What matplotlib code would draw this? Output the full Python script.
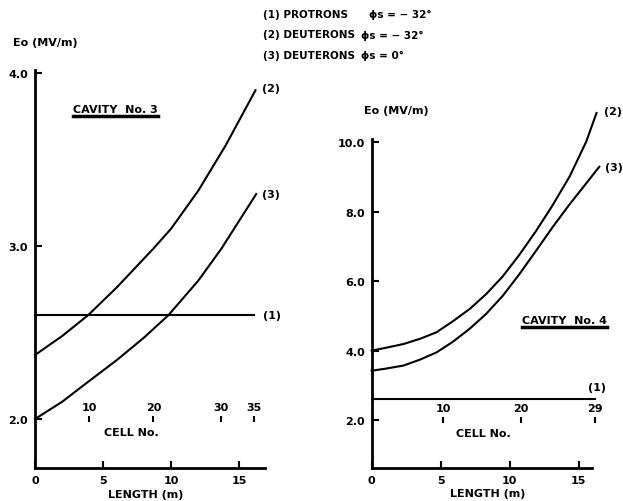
import matplotlib.pyplot as plt
from matplotlib.lines import Line2D

plt.rcParams['font.family'] = ['DejaVu Sans']
plt.rcParams['font.weight'] = 'bold'

# cavity no. 3 : length (m) vs Eo (MV/m)
c3_len_p = [0, 16.1]
c3_ez_p = [2.6, 2.6]
c3_len_d32 = [0, 2, 3.9, 6, 8.7, 10, 12, 14, 16.2]
c3_ez_d32 = [2.37, 2.48, 2.60, 2.76, 2.985, 3.10, 3.32, 3.58, 3.90]
c3_len_d0 = [0, 2, 3.9, 6, 8, 9.8, 12, 13.7, 16.25]
c3_ez_d0 = [2.0, 2.10, 2.215, 2.34, 2.47, 2.60, 2.80, 2.985, 3.30]
c3_cells = ['10', '20', '30', '35']
c3_cell_len = [4.0, 8.7, 13.65, 16.1]

# cavity no. 4
c4_len_p = [0, 16.2]
c4_ez_p = [2.6, 2.6]
c4_len_d32 = [0, 1, 2.3, 3.5, 4.7, 5.9, 7.1, 8.3, 9.5, 10.7, 11.9, 13.1, 14.35, 15.55, 16.3]
c4_ez_d32 = [4.0, 4.08, 4.19, 4.34, 4.53, 4.85, 5.20, 5.63, 6.14, 6.76, 7.44, 8.18, 9.02, 10.02, 10.85]
c4_len_d0 = [0, 1, 2.3, 3.5, 4.7, 5.9, 7.1, 8.3, 9.5, 10.7, 11.9, 13.1, 14.35, 15.55, 16.5]
c4_ez_d0 = [3.42, 3.48, 3.57, 3.74, 3.95, 4.26, 4.63, 5.06, 5.58, 6.20, 6.87, 7.55, 8.22, 8.82, 9.3]
c4_cells = ['10', '20', '29']
c4_cell_len = [5.2, 10.8, 16.2]

legend_names = ['(1) PROTRONS', '(2) DEUTERONS', '(3) DEUTERONS']
legend_phase = ['\u03d5s = \u2212 32\u00b0', '\u03d5s = \u2212 32\u00b0', '\u03d5s = 0\u00b0']

W, H = 623, 502
fig = plt.figure(figsize=(W / 100, H / 100), dpi=100)


def px_axes(x0, x1, y0, y1):
    return fig.add_axes([x0 / W, 1 - y1 / H, (x1 - x0) / W, (y1 - y0) / H])


def style(ax, xlim, ylim, yticks):
    ax.set_xlim(*xlim)
    ax.set_ylim(*ylim)
    for s in ['top', 'right']:
        ax.spines[s].set_visible(False)
    for s in ['left', 'bottom']:
        ax.spines[s].set_linewidth(2)
    ax.set_xticks([0, 5, 10, 15])
    ax.set_yticks(yticks)
    ax.set_yticklabels(['%.1f' % v for v in yticks])
    ax.tick_params(direction='in', length=5, width=1.5, labelsize=8, pad=5)


def draw(ax, lp, ep, l2, e2, l3, e3, cells, cell_len, p_off):
    for x, y in [(lp, ep), (l2, e2), (l3, e3)]:
        ax.plot(x, y, color='black', lw=1.5, clip_on=False)
    kw = dict(textcoords='offset pixels', ha='center', va='center',
              fontsize=8, annotation_clip=False)
    ax.annotate('(1)', (lp[-1], ep[-1]), xytext=p_off, **kw)
    ax.annotate('(2)', (l2[-1], e2[-1]), xytext=(16, 2), **kw)
    ax.annotate('(3)', (l3[-1], e3[-1]), xytext=(15, 0), **kw)
    ax.plot(cell_len, [2.0] * len(cell_len), '|', color='black', ms=5, mew=1.5,
            clip_on=False)
    for c, x in zip(cells, cell_len):
        ax.annotate(c, (x, 2.0), xytext=(0, 12), **kw)


ax1 = px_axes(35, 265, 70.5, 469)
style(ax1, (0, 16.9), (1.717, 4.02), [2.0, 3.0, 4.0])
draw(ax1, c3_len_p, c3_ez_p, c3_len_d32, c3_ez_d32, c3_len_d0, c3_ez_d0,
     c3_cells, c3_cell_len, (18, 0))
ax1.text(7.1, 1.923, 'CELL No.', ha='center', va='center', fontsize=8)
t1 = ax1.text(5.93, 3.79, 'CAVITY  No. 3', ha='center', va='center', fontsize=8)

ax2 = px_axes(371.7, 591.7, 140, 469)
style(ax2, (0, 15.95), (0.617, 10.1), [2.0, 4.0, 6.0, 8.0, 10.0])
draw(ax2, c4_len_p, c4_ez_p, c4_len_d32, c4_ez_d32, c4_len_d0, c4_ez_d0,
     c4_cells, c4_cell_len, (2, 12))
ax2.text(8.1, 1.625, 'CELL No.', ha='center', va='center', fontsize=8)
t2 = ax2.text(14.0, 4.88, 'CAVITY  No. 4', ha='center', va='center', fontsize=8)

fig.text(45 / W, 1 - 43 / H, 'Eo (MV/m)', ha='center', va='center', fontsize=8)
fig.text(396 / W, 1 - 111 / H, 'Eo (MV/m)', ha='center', va='center', fontsize=8)
fig.text(146 / W, 1 - 495 / H, 'LENGTH (m)', ha='center', va='center', fontsize=8)
fig.text(488 / W, 1 - 494 / H, 'LENGTH (m)', ha='center', va='center', fontsize=8)

for i, (name, ph) in enumerate(zip(legend_names, legend_phase)):
    yy = 1 - (15 + 20.5 * i) / H
    fig.text(263 / W, yy, name, ha='left', va='center', fontsize=7.5)
    fig.text((369 if i == 0 else 361) / W, yy, ph, ha='left', va='center', fontsize=7.5)

# underline the cavity titles
fig.canvas.draw()
for t in [t1, t2]:
    bb = t.get_window_extent()
    fig.add_artist(Line2D([bb.x0 / W, bb.x1 / W], [(bb.y0 - 2) / H] * 2,
                          transform=fig.transFigure, lw=2.5, color='black'))

fig.savefig('out.png', dpi=100)
